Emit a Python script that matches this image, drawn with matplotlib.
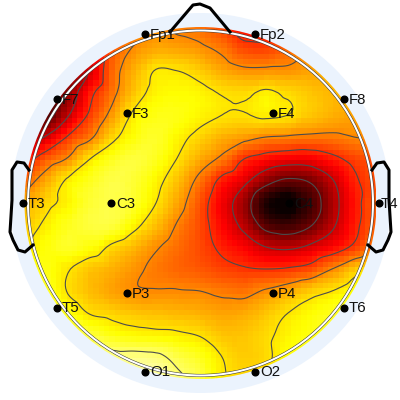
import numpy as np
import matplotlib
matplotlib.use('Agg')
import matplotlib.pyplot as plt
import matplotlib.tri as tri
from matplotlib.patches import Circle

channels = ['Fp1', 'Fp2', 'F7', 'F3', 'F4', 'F8', 'T3', 'C3', 'C4', 'T4', 'T5', 'P3', 'P4', 'T6', 'O1', 'O2']
chan_x = [145, 255, 57, 127, 273, 344, 23, 111, 289, 379, 57, 127, 273, 344, 145, 255]
chan_y = [34, 34, 99, 113, 113, 99, 203, 203, 203, 203, 308, 293, 293, 308, 372, 372]

grid_x = [24, 46, 68, 90, 112, 134, 156, 178, 200, 222, 244, 266, 288, 310, 332, 354, 376]
grid_y = [27, 49, 71, 93, 115, 137, 159, 181, 203, 225, 247, 269, 291, 313, 335, 357, 379]

# values, one row per grid_y
power = [
    [.80, .80, .75, .70, .60, .47, .42, .44, .46, .52, .62, .60, .52, .46, .42, .38, .38],
    [.80, .80, .75, .65, .50, .41, .37, .38, .40, .44, .51, .52, .47, .40, .37, .36, .36],
    [.85, .85, .80, .68, .47, .36, .28, .285, .32, .37, .40, .40, .40, .38, .36, .36, .36],
    [.92, .92, .77, .58, .45, .33, .26, .25, .26, .29, .30, .27, .30, .33, .35, .36, .37],
    [.95, .87, .70, .53, .39, .27, .23, .23, .26, .285, .29, .27, .285, .33, .36, .38, .39],
    [.78, .68, .54, .44, .31, .24, .21, .26, .31, .36, .39, .42, .43, .44, .44, .42, .41],
    [.60, .49, .41, .285, .22, .19, .22, .29, .37, .44, .55, .60, .63, .63, .58, .52, .50],
    [.47, .37, .27, .22, .18, .20, .26, .34, .45, .58, .66, .78, .84, .81, .70, .57, .50],
    [.36, .31, .26, .20, .18, .21, .285, .38, .50, .63, .76, .94, 1.0, .89, .74, .59, .47],
    [.33, .27, .22, .19, .19, .26, .34, .43, .51, .61, .72, .86, .89, .83, .71, .58, .47],
    [.30, .24, .21, .24, .30, .35, .41, .46, .51, .57, .62, .69, .71, .67, .61, .53, .42],
    [.24, .23, .28, .33, .36, .40, .44, .47, .49, .52, .54, .55, .54, .51, .42, .33, .27],
    [.17, .21, .29, .34, .38, .41, .415, .415, .42, .44, .45, .41, .37, .32, .285, .24, .20],
    [.14, .16, .23, .29, .31, .33, .34, .35, .36, .38, .37, .33, .285, .25, .22, .19, .16],
    [.10, .12, .16, .19, .23, .25, .26, .27, .29, .33, .33, .30, .26, .23, .20, .17, .15],
    [.06, .07, .08, .10, .12, .12, .13, .18, .22, .285, .32, .30, .24, .20, .17, .15, .14],
    [.05, .05, .05, .06, .08, .08, .08, .13, .18, .27, .30, .29, .22, .19, .16, .14, .13],
]
levels = [.15, .285, .42, .55, .69, .82]

nose_x = [170, 193, 200, 210, 230]
nose_y = [32, 5, 4, 8, 32]
ear_l_x = [29, 24, 17, 12, 12, 10, 13, 18, 25, 33]
ear_y = [170, 163, 162, 170, 200, 232, 240, 250, 252, 245]
ear_r_x = [372, 377, 384, 389, 389, 391, 388, 383, 376, 368]

plt.rcParams['font.family'] = ['Liberation Sans', 'DejaVu Sans']

fig = plt.figure(figsize=(4, 4), dpi=100)
ax = fig.add_axes([0, 0, 1, 1])
ax.set_xlim(0, 400)
ax.set_ylim(400, 0)
ax.set_axis_off()

cx, cy = 200.5, 203
ax.add_patch(Circle((cx, cy), 190, fc='#ebf3fd', ec='none', zorder=0))

X, Y = np.meshgrid(grid_x, grid_y)
z = np.array(power).ravel()
triang = tri.Triangulation(X.ravel(), Y.ravel())
interp = tri.CubicTriInterpolator(triang, z, kind='geom')

# blocky map, about 5 px cells like the reference
cell = 5.33
xi = np.arange(grid_x[0] + cell / 2, grid_x[-1], cell)
yi = np.arange(grid_y[0] + cell / 2, grid_y[-1], cell)
XI, YI = np.meshgrid(xi, yi)
zi = interp(XI, YI)
im = ax.imshow(zi, cmap='hot_r', vmin=0, vmax=0.97, interpolation='nearest', aspect='auto',
               extent=[xi[0] - cell / 2, xi[-1] + cell / 2, yi[-1] + cell / 2, yi[0] - cell / 2], zorder=1)
im.set_clip_path(Circle((cx, cy), 176, transform=ax.transData))

refiner = tri.UniformTriRefiner(triang)
fine, fine_z = refiner.refine_field(z, triinterpolator=interp, subdiv=3)
cs = ax.tricontour(fine, fine_z, levels=levels, colors='#4c4c4c', linewidths=0.8, zorder=2)
cs.set_clip_path(Circle((cx, cy), 172, transform=ax.transData))

# head outline: white band with thin dark edges
ax.add_patch(Circle((cx, cy), 172.5, fc='none', ec='#333333', lw=2.2, zorder=3))
ax.add_patch(Circle((cx, cy), 172.5, fc='none', ec='white', lw=1.5, zorder=3))

ax.plot(nose_x, nose_y, color='black', lw=2.2, zorder=4)
ax.plot(ear_l_x, ear_y, color='black', lw=2.2, zorder=4)
ax.plot(ear_r_x, ear_y, color='black', lw=2.2, zorder=4)

ax.plot(chan_x, chan_y, 'o', color='black', ms=4.8, zorder=5)
for name, x, y in zip(channels, chan_x, chan_y):
    # T4 would run off the right edge otherwise
    ax.text(min(x + 5, 381), y + 0.5, name, fontsize=10.8, color='#111111', ha='left', va='center', zorder=6)

fig.savefig('out.png', dpi=100)
